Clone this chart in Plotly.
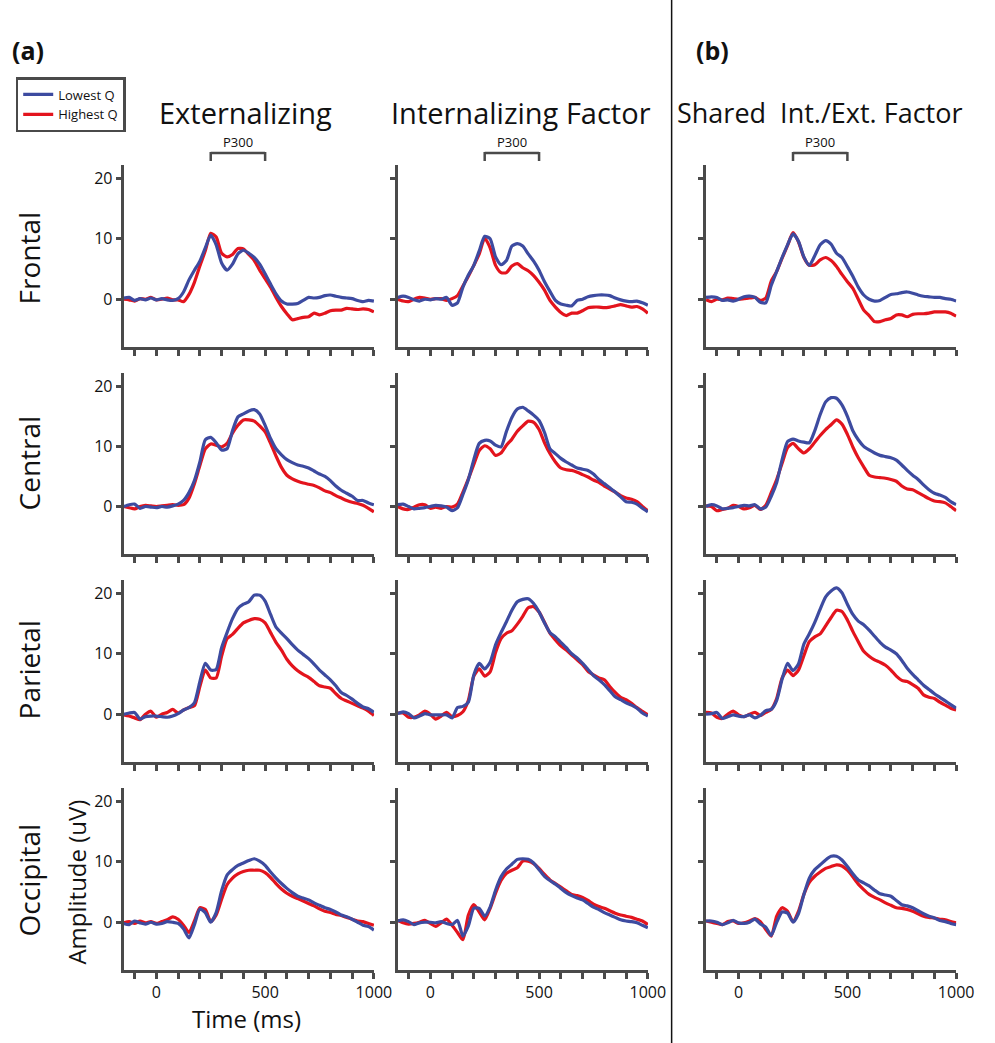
import plotly.graph_objects as go

# ---------------- data ----------------
time_ms = [-150, -125, -100, -75, -50, -25, 0, 25, 50, 75, 100, 125, 150, 175, 200, 225,
           250, 275, 300, 325, 350, 375, 400, 425, 450, 475, 500, 525, 550, 575, 600, 625,
           650, 675, 700, 725, 750, 775, 800, 825, 850, 875, 900, 925, 950, 975, 1000]

columns = ["Externalizing", "Internalizing Factor", "Shared\u00a0 Int./Ext. Factor"]
regions = ["Frontal", "Central", "Parietal", "Occipital"]
series_names = ["Lowest Q", "Highest Q"]

# Externalizing
ext_frontal_low = [0.2, 0.3, -0.2, 0.1, -0.1, 0.2, -0.1, 0.1, -0.1, -0.2, 0.1, 1.2, 3.2, 4.8, 6.3, 8.5, 10.6, 9.0, 6.0, 4.8, 5.8, 7.5, 8.1, 7.6, 6.9, 5.8, 4.2, 2.5, 0.9, -0.3, -0.8, -0.8, -0.7, -0.2, 0.3, 0.2, 0.3, 0.6, 0.7, 0.5, 0.3, 0.2, 0.1, -0.2, -0.4, -0.2, -0.3]
ext_frontal_high = [0.0, -0.1, -0.3, 0.1, 0.0, 0.3, -0.1, 0.0, 0.2, -0.1, -0.1, -0.4, 0.8, 2.8, 5.5, 8.0, 10.9, 10.3, 7.6, 7.0, 7.4, 8.4, 8.3, 7.4, 6.4, 4.8, 3.4, 2.0, 0.3, -1.2, -2.4, -3.4, -3.2, -3.0, -2.9, -2.3, -2.6, -2.3, -1.9, -1.8, -1.8, -1.5, -1.6, -1.7, -1.6, -1.7, -2.1]
ext_central_low = [0.0, 0.3, 0.4, -0.3, 0.0, -0.1, -0.2, 0.0, -0.1, 0.1, 0.4, 1.0, 2.3, 4.3, 7.4, 11.1, 11.5, 10.6, 9.4, 9.6, 12.6, 14.9, 15.4, 15.9, 16.1, 15.4, 13.5, 11.3, 9.6, 8.6, 7.8, 7.3, 6.9, 6.7, 6.4, 5.9, 5.4, 5.0, 4.3, 3.4, 2.7, 2.2, 1.7, 1.0, 1.0, 0.6, 0.3]
ext_central_high = [0.0, -0.2, -0.4, 0.0, 0.2, 0.1, 0.0, 0.1, 0.2, 0.3, 0.2, 0.3, 1.4, 3.8, 6.8, 9.6, 10.4, 10.2, 9.9, 10.5, 12.2, 13.5, 14.4, 14.4, 14.2, 13.4, 12.4, 10.5, 8.4, 6.5, 5.2, 4.6, 4.2, 3.9, 3.7, 3.5, 3.1, 2.6, 2.3, 1.8, 1.4, 1.0, 0.7, 0.5, 0.2, -0.3, -0.9]
ext_parietal_low = [0.0, 0.2, 0.3, -0.8, -0.4, -0.3, -0.3, -0.4, -0.5, -0.3, 0.1, 0.7, 1.1, 1.9, 5.4, 8.4, 7.3, 7.4, 11.0, 13.5, 15.8, 17.5, 18.2, 18.6, 19.7, 19.7, 18.7, 16.5, 14.4, 13.4, 12.5, 11.5, 10.6, 9.9, 9.2, 8.3, 7.3, 6.5, 5.7, 4.7, 3.6, 3.1, 2.5, 1.8, 1.2, 0.9, 0.3]
ext_parietal_high = [-0.1, -0.3, -0.6, -0.9, 0.0, 0.5, -0.5, 0.0, 0.3, 0.8, 0.2, 0.7, 1.1, 1.4, 4.6, 7.3, 6.0, 6.0, 9.6, 12.5, 13.2, 14.2, 15.1, 15.5, 15.8, 15.7, 15.1, 13.5, 11.9, 10.6, 9.1, 8.0, 7.2, 6.6, 6.1, 5.4, 4.7, 4.5, 4.3, 3.4, 2.6, 2.2, 1.8, 1.4, 1.0, 0.5, -0.2]
ext_occipital_low = [-0.2, -0.4, 0.2, -0.1, -0.3, 0.0, -0.3, -0.2, 0.1, 0.0, -0.2, -1.1, -2.6, -0.4, 2.2, 1.6, 0.0, 1.6, 5.2, 7.8, 8.7, 9.4, 9.8, 10.2, 10.5, 10.1, 9.4, 8.3, 7.3, 6.4, 5.6, 4.9, 4.3, 4.0, 3.7, 3.2, 2.8, 2.4, 2.1, 1.7, 1.2, 0.9, 0.5, 0.0, -0.5, -0.7, -1.3]
ext_occipital_high = [-0.1, 0.1, -0.2, 0.2, -0.1, 0.1, -0.2, 0.1, 0.4, 0.9, 0.5, -0.5, -1.7, 0.2, 2.4, 2.1, 0.1, 1.2, 3.8, 6.2, 7.3, 8.0, 8.4, 8.6, 8.6, 8.6, 8.2, 7.4, 6.4, 5.5, 4.8, 4.3, 3.9, 3.5, 3.1, 2.7, 2.2, 1.8, 1.6, 1.3, 1.1, 0.8, 0.5, 0.2, 0.1, -0.2, -0.5]

# Internalizing Factor
int_frontal_low = [0.3, 0.5, 0.3, -0.1, -0.3, 0.0, -0.1, 0.1, 0.0, 0.3, -1.0, -0.6, 2.0, 4.0, 5.6, 8.0, 10.4, 10.0, 7.0, 5.7, 6.4, 8.8, 9.2, 8.8, 7.5, 6.3, 4.8, 2.9, 1.3, -0.2, -0.8, -1.0, -1.1, -0.2, 0.0, 0.4, 0.6, 0.7, 0.7, 0.6, 0.2, -0.1, -0.3, -0.4, -0.3, -0.6, -1.0]
int_frontal_high = [0.0, -0.3, -0.4, 0.0, 0.3, 0.2, 0.0, 0.1, 0.1, -0.2, 0.1, 0.6, 2.2, 3.8, 5.6, 7.5, 10.1, 8.5, 5.6, 4.4, 4.4, 5.5, 5.9, 5.2, 4.7, 3.9, 2.8, 1.5, -0.2, -1.3, -2.2, -2.7, -2.3, -2.3, -1.9, -1.4, -1.3, -1.3, -1.4, -1.3, -1.1, -0.9, -1.1, -1.3, -1.2, -1.6, -2.3]
int_central_low = [0.3, 0.4, 0.0, -0.4, -0.3, -0.2, 0.0, 0.2, 0.1, -0.1, -0.7, -0.2, 2.0, 4.5, 7.8, 10.5, 11.0, 10.9, 10.2, 9.9, 12.5, 14.8, 16.2, 16.5, 15.9, 15.2, 14.3, 12.3, 9.6, 8.8, 8.0, 7.4, 6.9, 6.4, 6.2, 6.0, 5.4, 4.5, 3.8, 3.1, 2.4, 1.6, 0.8, 0.7, 0.4, -0.3, -0.9]
int_central_high = [0.0, -0.4, -0.5, -0.1, 0.3, 0.3, -0.3, -0.1, -0.3, 0.0, -0.1, 0.4, 2.4, 4.6, 7.0, 9.3, 10.1, 9.6, 8.5, 8.9, 10.2, 11.2, 12.5, 13.4, 14.2, 14.0, 12.8, 10.6, 8.8, 7.4, 6.4, 6.1, 6.0, 5.7, 5.3, 4.9, 4.4, 4.0, 3.4, 2.9, 2.4, 1.8, 1.4, 1.2, 0.8, 0.0, -0.7]
int_parietal_low = [0.1, 0.4, 0.1, -0.6, -0.3, 0.1, -0.1, -0.1, -0.1, -0.1, -0.6, 1.1, 1.3, 2.0, 6.5, 8.4, 7.5, 8.6, 11.5, 13.5, 15.3, 17.2, 18.6, 19.0, 19.1, 18.3, 16.9, 15.1, 13.5, 12.8, 11.9, 11.0, 10.0, 9.3, 8.4, 7.4, 6.4, 5.7, 4.9, 3.9, 2.9, 2.4, 1.9, 1.5, 1.0, 0.2, -0.3]
int_parietal_high = [0.2, 0.2, -0.5, -0.5, -0.1, 0.5, 0.0, -0.8, -0.3, 0.3, -0.4, -0.2, 0.4, 2.3, 6.3, 7.5, 6.3, 7.0, 10.2, 12.5, 13.4, 13.8, 14.9, 16.2, 17.6, 17.8, 16.9, 15.2, 13.4, 12.3, 11.3, 10.6, 9.8, 9.0, 8.2, 7.1, 6.5, 6.0, 5.7, 4.6, 3.6, 2.8, 2.4, 1.8, 1.1, 0.5, -0.1]
int_occipital_low = [0.2, 0.4, 0.1, -0.4, -0.1, 0.0, 0.0, -0.1, 0.1, -0.2, -0.4, 0.3, -2.3, -0.6, 2.3, 2.3, 1.0, 2.5, 5.3, 7.5, 8.8, 9.6, 10.4, 10.5, 10.4, 9.8, 8.7, 7.6, 6.9, 6.3, 5.6, 4.9, 4.4, 4.0, 3.7, 3.1, 2.5, 2.1, 1.6, 1.2, 0.8, 0.4, 0.2, 0.1, -0.1, -0.5, -0.9]
int_occipital_high = [0.3, -0.1, -0.3, -0.2, 0.0, 0.3, -0.2, -0.7, -0.1, 0.5, -0.5, -1.7, -2.9, 1.2, 2.9, 1.7, 0.4, 2.3, 4.8, 6.9, 8.1, 8.6, 9.0, 10.1, 10.1, 9.7, 8.9, 7.9, 7.0, 6.4, 5.8, 5.2, 4.6, 4.4, 4.1, 3.6, 3.0, 2.6, 2.3, 1.9, 1.5, 1.2, 1.0, 0.8, 0.5, 0.2, -0.4]

# Shared Int./Ext. Factor
shr_frontal_low = [0.3, 0.4, 0.3, -0.2, -0.1, -0.3, 0.0, 0.4, 0.5, 0.3, -0.5, -0.6, 2.3, 4.6, 6.9, 9.0, 10.8, 9.6, 7.0, 5.6, 7.2, 9.0, 9.7, 9.1, 7.6, 6.9, 5.4, 3.8, 2.0, 0.7, 0.0, -0.3, -0.2, 0.3, 0.8, 0.9, 1.1, 1.2, 1.0, 0.7, 0.5, 0.4, 0.3, 0.3, 0.1, 0.0, -0.3]
shr_frontal_high = [-0.1, -0.4, 0.0, -0.1, 0.2, 0.1, 0.0, 0.1, 0.2, 0.3, -0.2, 0.2, 3.0, 4.6, 6.8, 8.9, 11.0, 9.5, 6.9, 5.6, 5.7, 6.5, 6.9, 6.4, 5.4, 4.1, 2.9, 1.8, 0.0, -1.8, -2.7, -3.7, -3.7, -3.4, -3.2, -2.6, -2.6, -2.9, -2.5, -2.4, -2.4, -2.3, -2.1, -2.1, -2.1, -2.3, -2.8]
shr_central_low = [0.0, 0.3, 0.1, -0.4, -0.3, -0.2, 0.0, 0.2, 0.1, 0.3, -0.4, -0.1, 1.7, 4.0, 7.8, 10.8, 11.2, 10.9, 10.7, 10.6, 12.6, 15.3, 17.4, 18.1, 18.0, 16.9, 15.0, 12.6, 11.1, 10.0, 9.4, 8.9, 8.5, 8.3, 8.1, 7.7, 6.9, 6.0, 5.2, 4.5, 3.6, 2.8, 2.2, 1.9, 1.5, 0.8, 0.3]
shr_central_high = [0.1, 0.0, -0.7, -0.5, -0.3, 0.2, 0.0, -0.4, -0.2, 0.2, -0.5, 0.2, 2.3, 4.5, 7.2, 9.8, 10.5, 9.6, 8.9, 9.6, 10.7, 11.8, 12.8, 13.6, 14.4, 13.7, 12.0, 9.9, 8.1, 6.6, 5.2, 4.9, 4.8, 4.7, 4.5, 4.2, 3.4, 2.9, 2.8, 2.3, 1.8, 1.3, 0.9, 0.8, 0.6, 0.0, -0.7]
shr_parietal_low = [0.0, 0.1, 0.3, -0.7, -0.4, -0.1, -0.3, -0.4, -0.1, -0.6, -0.2, 0.6, 0.8, 2.3, 5.8, 8.4, 7.2, 8.3, 11.6, 13.3, 15.2, 17.4, 19.4, 20.4, 20.9, 20.1, 18.2, 16.5, 15.4, 14.8, 13.9, 12.9, 11.9, 11.1, 10.6, 10.0, 8.9, 7.6, 6.6, 5.7, 4.8, 4.1, 3.4, 2.8, 2.2, 1.6, 1.0]
shr_parietal_high = [0.3, 0.2, -0.5, -0.7, 0.0, 0.5, -0.1, -0.4, 0.0, 0.3, -0.2, 0.3, 0.8, 2.6, 6.0, 7.3, 6.4, 7.3, 9.7, 12.0, 12.8, 13.3, 14.6, 16.0, 17.2, 17.0, 15.6, 13.7, 12.0, 10.4, 9.6, 9.0, 8.6, 8.1, 7.3, 6.3, 5.6, 5.4, 4.9, 4.3, 3.2, 2.8, 2.6, 2.0, 1.5, 1.0, 0.7]
shr_occipital_low = [0.2, 0.2, 0.0, -0.4, -0.1, 0.3, -0.1, -0.2, 0.0, 0.5, -0.3, -0.8, -2.2, 0.0, 1.7, 1.5, 0.0, 1.4, 4.6, 7.3, 8.7, 9.5, 10.3, 10.9, 10.9, 10.3, 9.2, 8.0, 7.0, 6.5, 6.0, 5.3, 4.7, 4.5, 4.3, 3.6, 2.9, 2.7, 2.4, 1.9, 1.4, 1.0, 0.7, 0.3, 0.1, -0.2, -0.4]
shr_occipital_high = [0.2, 0.0, -0.2, -0.4, 0.1, 0.2, -0.2, -0.1, 0.2, 0.6, 0.1, -1.2, -2.3, 1.0, 2.4, 1.8, 0.1, 1.8, 4.6, 6.6, 7.6, 8.3, 8.9, 9.2, 9.5, 9.3, 8.6, 7.5, 6.3, 5.4, 4.6, 4.1, 3.7, 3.2, 2.8, 2.4, 2.3, 2.1, 1.8, 1.4, 1.0, 0.8, 0.7, 0.5, 0.4, 0.1, -0.1]

x_tick_values = [-100, 0, 100, 200, 300, 400, 500, 600, 700, 800, 900, 1000]
x_tick_labels = ["", "0", "", "", "", "", "500", "", "", "", "", "1000"]
y_tick_values = [0, 10, 20]
y_tick_labels = ["0", "10", "20"]
p300_window = [250, 500]

# panel grid: rows = regions, columns = factors
panel_data = [
    [(ext_frontal_low, ext_frontal_high), (int_frontal_low, int_frontal_high), (shr_frontal_low, shr_frontal_high)],
    [(ext_central_low, ext_central_high), (int_central_low, int_central_high), (shr_central_low, shr_central_high)],
    [(ext_parietal_low, ext_parietal_high), (int_parietal_low, int_parietal_high), (shr_parietal_low, shr_parietal_high)],
    [(ext_occipital_low, ext_occipital_high), (int_occipital_low, int_occipital_high), (shr_occipital_low, shr_occipital_high)],
]

# ---------------- styling / layout ----------------
W, H = 995, 1043
FONT = "Open Sans"
AX = "#4a4a4a"
BLUE = "#3d4ba0"
RED = "#e3141d"
TXT = "#111111"

col_px = [(126, 381), (405, 660), (719, 974)]
row_px = [(165, 347), (373, 554), (580, 762), (788, 970)]


def fx(p):
    return p / W


def fy(p):
    return 1 - p / H


fig = go.Figure()
layout = dict(
    width=W, height=H, autosize=False,
    margin=dict(l=0, r=0, t=0, b=0),
    paper_bgcolor="white", plot_bgcolor="white",
    font=dict(family=FONT, color=TXT),
    showlegend=True,
    legend=dict(
        x=fx(16), y=fy(77), xanchor="left", yanchor="top",
        bordercolor=AX, borderwidth=2.5, bgcolor="white",
        font=dict(family=FONT, size=13, color=TXT),
        itemwidth=30, tracegroupgap=0,
    ),
)

annotations = []
shapes = []

for r in range(4):
    for c in range(3):
        k = r * 3 + c + 1
        sfx = "" if k == 1 else str(k)
        low, high = panel_data[r][c]
        fig.add_trace(go.Scatter(
            x=time_ms, y=high, mode="lines", name=series_names[1],
            line=dict(color=RED, width=3.2, shape="spline", smoothing=0.6),
            xaxis="x" + sfx, yaxis="y" + sfx,
            showlegend=(k == 1), legendrank=2, hoverinfo="skip",
        ))
        fig.add_trace(go.Scatter(
            x=time_ms, y=low, mode="lines", name=series_names[0],
            line=dict(color=BLUE, width=3.2, shape="spline", smoothing=0.6),
            xaxis="x" + sfx, yaxis="y" + sfx,
            showlegend=(k == 1), legendrank=1, hoverinfo="skip",
        ))
        x0, x1 = col_px[c]
        y0, y1 = row_px[r]
        layout["xaxis" + sfx] = dict(
            domain=[fx(x0), fx(x1)], range=[-150, 1001], anchor="y" + sfx,
            showline=True, linecolor=AX, linewidth=3,
            ticks="outside", ticklen=6, tickwidth=2.5, tickcolor=AX,
            tickvals=x_tick_values,
            ticktext=x_tick_labels if r == 3 else [""] * len(x_tick_values),
            tickfont=dict(family=FONT, size=16, color=TXT),
            showgrid=False, zeroline=False, fixedrange=True,
        )
        layout["yaxis" + sfx] = dict(
            domain=[fy(y1), fy(y0)], range=[-7.9, 22.2], anchor="x" + sfx,
            showline=True, linecolor=AX, linewidth=3,
            ticks="outside", ticklen=5, tickwidth=2.5, tickcolor=AX,
            tickvals=y_tick_values,
            ticktext=y_tick_labels if c == 0 else [""] * 3,
            tickfont=dict(family=FONT, size=16, color=TXT),
            showgrid=False, zeroline=False, fixedrange=True,
        )

# P300 brackets above top row
for c in range(3):
    xr = "x" if c == 0 else "x" + str(c + 1)
    shapes.append(dict(type="line", xref=xr, yref="paper", x0=p300_window[0], x1=p300_window[1],
                       y0=fy(153), y1=fy(153), line=dict(color=AX, width=2.5)))
    for xv in p300_window:
        shapes.append(dict(type="line", xref=xr, yref="paper", x0=xv, x1=xv,
                           y0=fy(152), y1=fy(161), line=dict(color=AX, width=2.5)))
    annotations.append(dict(xref=xr, yref="paper", x=sum(p300_window) / 2, y=fy(142),
                            text="P300", showarrow=False, xanchor="center", yanchor="middle",
                            font=dict(family=FONT, size=13, color=TXT)))

# column titles
title_centers = [250, 531, 835]
title_sizes = [29, 29, 27]
for c, name in enumerate(columns):
    annotations.append(dict(xref="paper", yref="paper", x=fx(title_centers[c]), y=fy(113),
                            text=name, showarrow=False, xanchor="center", yanchor="middle",
                            font=dict(family=FONT, size=title_sizes[c], color=TXT)))

# row labels
row_centers = [258, 463, 670, 880]
for r, name in enumerate(regions):
    annotations.append(dict(xref="paper", yref="paper", x=fx(30), y=fy(row_centers[r]),
                            text=name, showarrow=False, textangle=-90,
                            xanchor="center", yanchor="middle",
                            font=dict(family=FONT, size=28, color=TXT)))

# axis titles
annotations.append(dict(xref="paper", yref="paper", x=fx(77), y=fy(882), text="Amplitude (uV)",
                        showarrow=False, textangle=-90, xanchor="center", yanchor="middle",
                        font=dict(family=FONT, size=24, color=TXT)))
annotations.append(dict(xref="paper", yref="paper", x=fx(251), y=fy(1018), text="Time (ms)",
                        showarrow=False, xanchor="center", yanchor="middle",
                        font=dict(family=FONT, size=24, color=TXT)))

# panel letters
annotations.append(dict(xref="paper", yref="paper", x=fx(10), y=fy(50), text="<b>(a)</b>",
                        showarrow=False, xanchor="left", yanchor="middle",
                        font=dict(family=FONT, size=25, color=TXT)))
annotations.append(dict(xref="paper", yref="paper", x=fx(707), y=fy(50), text="<b>(b)</b>",
                        showarrow=False, xanchor="left", yanchor="middle",
                        font=dict(family=FONT, size=25, color=TXT)))

# divider between (a) and (b)
shapes.append(dict(type="line", xref="paper", yref="paper", x0=fx(684), x1=fx(684), y0=0, y1=1,
                   line=dict(color="#111111", width=1.5)))

layout["annotations"] = annotations
layout["shapes"] = shapes
fig.update_layout(**layout)
fig.write_html(
    "out.html",
    config={"displayModeBar": False, "responsive": False},
    post_script=(
        "document.documentElement.style.overflow='hidden';"
        "document.body.style.margin='0';"
        "document.body.style.overflow='hidden';"
    ),
)
